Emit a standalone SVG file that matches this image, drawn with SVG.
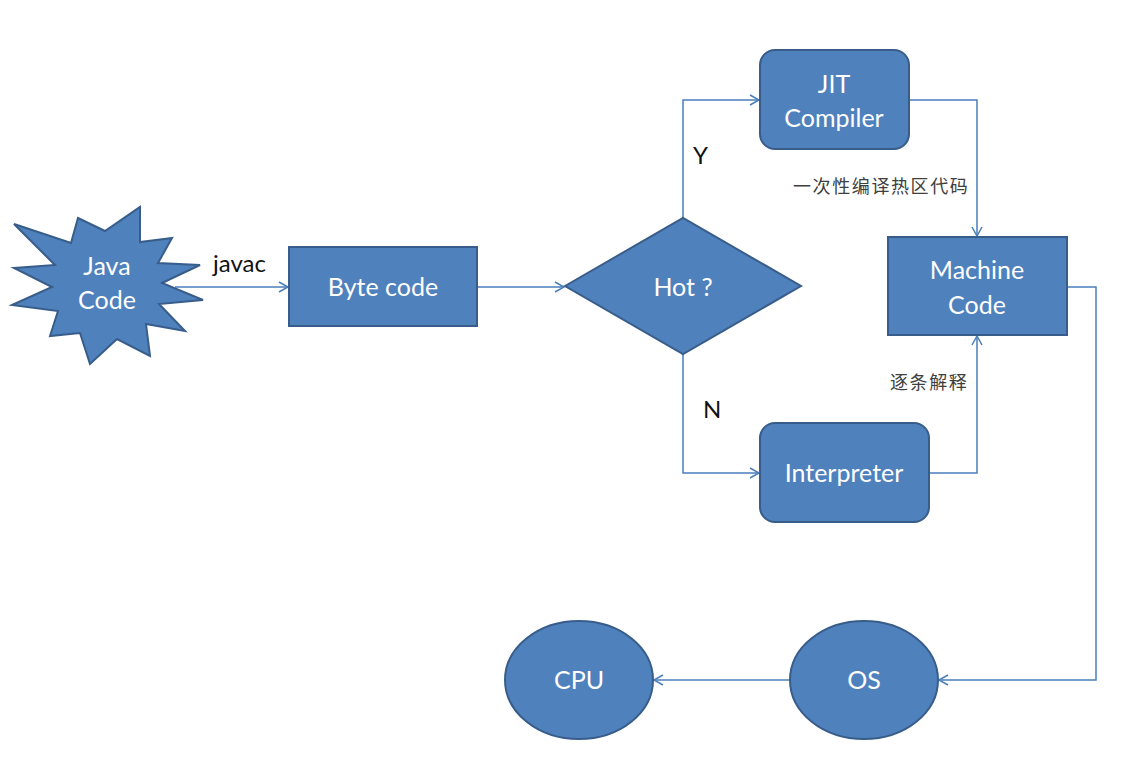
<svg xmlns="http://www.w3.org/2000/svg" width="1126" height="759" viewBox="0 0 1126 759">
<style>
.shape{fill:#4f81bd;stroke:#385d8a;stroke-width:2}
.t{fill:#ffffff;font-family:Lato,"Open Sans","Liberation Sans",sans-serif;font-size:25px;text-anchor:middle}
.lbl{fill:#111111;font-family:Lato,"Open Sans","Liberation Sans",sans-serif;font-size:24px}
.cjk{fill:#404040;font-family:"Noto Sans CJK SC","Noto Sans",sans-serif;font-size:18px;letter-spacing:1.6px}
.c{fill:none;stroke:#4a7ebb;stroke-width:1.5}
</style>
<defs>
<marker id="arr" markerWidth="12" markerHeight="12" refX="10" refY="6" orient="auto" markerUnits="userSpaceOnUse">
<path d="M1,1 L10,6 L1,11" fill="none" stroke="#4a7ebb" stroke-width="1.5"/>
</marker>
</defs>
<rect width="1126" height="759" fill="#ffffff"/>
<g id="connectors">
<line class="c" x1="175" y1="287" x2="288" y2="287" marker-end="url(#arr)"/>
<line class="c" x1="477" y1="287" x2="564" y2="287" marker-end="url(#arr)"/>
<polyline class="c" points="683,218 683,100 759,100" marker-end="url(#arr)"/>
<polyline class="c" points="683,354 683,473 759,473" marker-end="url(#arr)"/>
<polyline class="c" points="909,100 977,100 977,236" marker-end="url(#arr)"/>
<polyline class="c" points="929,473 977,473 977,336" marker-end="url(#arr)"/>
<polyline class="c" points="1067,287 1096,287 1096,680 939,680" marker-end="url(#arr)"/>
<line class="c" x1="790" y1="680" x2="654" y2="680" marker-end="url(#arr)"/>
<text class="lbl" x="213" y="272">javac</text>
<text class="lbl" x="693" y="164">Y</text>
<text class="lbl" x="703" y="418">N</text>
<text class="cjk" x="793" y="193">一次性编译热区代码</text>
<text class="cjk" x="890" y="389">逐条解释</text>
</g>
<g id="java-code">
<polygon class="shape" points="14,224 71,243 78,218 105,231 140,207 140,242 172,238 158,263 200,265 162,283 203,300 159,304 185,331 146,324 150,356 117,339 90,364 80,333 50,336 58,311 12,305 52,287 14,268 55,265"/>
<text class="t" x="107" y="275">Java</text>
<text class="t" x="107" y="309">Code</text>
</g>
<g id="byte-code">
<rect class="shape" x="289" y="247" width="188" height="79"/>
<text class="t" x="383" y="296">Byte code</text>
</g>
<g id="hot">
<polygon class="shape" points="565,286 683,218 801,286 683,354"/>
<text class="t" x="683" y="296">Hot ?</text>
</g>
<g id="jit-compiler">
<rect class="shape" x="760" y="50" width="149" height="99" rx="15"/>
<text class="t" x="834" y="93">JIT</text>
<text class="t" x="834" y="127">Compiler</text>
</g>
<g id="machine-code">
<rect class="shape" x="888" y="237" width="179" height="98"/>
<text class="t" x="977" y="279">Machine</text>
<text class="t" x="977" y="314">Code</text>
</g>
<g id="interpreter">
<rect class="shape" x="760" y="423" width="169" height="99" rx="15"/>
<text class="t" x="844" y="482">Interpreter</text>
</g>
<g id="os">
<ellipse class="shape" cx="864" cy="680" rx="74" ry="59"/>
<text class="t" x="864" y="689">OS</text>
</g>
<g id="cpu">
<ellipse class="shape" cx="579" cy="680" rx="74" ry="59"/>
<text class="t" x="579" y="689">CPU</text>
</g>
</svg>
